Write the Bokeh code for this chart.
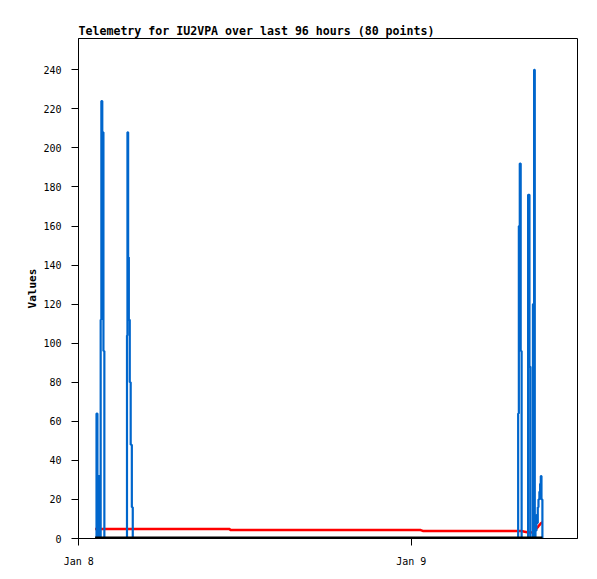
import datetime as dt
from bokeh.plotting import figure
from bokeh.models import ColumnDataSource, FixedTicker, Range1d
from bokeh.embed import file_html
from bokeh.resources import INLINE

BASE = dt.datetime(2025, 1, 8)

# minutes after Jan 8 00:00 for each of the 80 samples
minutes = [71, 77, 81, 85, 90, 95, 98, 102, 107, 111,
           128, 149, 166, 184, 207, 209, 211, 214, 217, 221,
           225, 230, 234, 270, 314, 357, 409, 465, 517, 573,
           616, 651, 659, 724, 789, 854, 919, 984, 1049, 1113,
           1178, 1243, 1308, 1373, 1438, 1481, 1490, 1550, 1611, 1676,
           1741, 1797, 1849, 1870, 1888, 1900, 1903, 1906, 1910, 1914,
           1918, 1931, 1943, 1946, 1952, 1956, 1964, 1967, 1972, 1975,
           1978, 1982, 1985, 1988, 1991, 1995, 1998, 2001, 2004, 2008]

blue = [0, 64, 0, 32, 0, 112, 224, 208, 96, 0,
        0, 0, 0, 0, 0, 104, 208, 144, 112, 80,
        48, 16, 0, 0, 0, 0, 0, 0, 0, 0,
        0, 0, 0, 0, 0, 0, 0, 0, 0, 0,
        0, 0, 0, 0, 0, 0, 0, 0, 0, 0,
        0, 0, 0, 0, 0, 0, 64, 160, 192, 96,
        0, 0, 0, 176, 88, 0, 0, 120, 240, 0,
        4, 12, 8, 16, 20, 24, 28, 32, 20, 0]

red = [4.9, 4.9, 4.9, 4.9, 4.9, 4.9, 4.9, 4.9, 4.9, 4.9,
       4.9, 4.9, 4.9, 4.9, 4.9, 4.9, 4.9, 4.9, 4.9, 4.9,
       4.9, 4.9, 4.9, 4.9, 4.9, 4.9, 4.9, 4.9, 4.9, 4.9,
       4.9, 4.9, 4.3, 4.3, 4.3, 4.3, 4.3, 4.3, 4.3, 4.3,
       4.3, 4.3, 4.3, 4.3, 4.3, 4.3, 3.9, 3.9, 3.9, 3.9,
       3.9, 3.9, 3.9, 3.9, 3.9, 3.9, 3.9, 3.9, 3.9, 3.9,
       3.8, 3.5, 3.2, 3.1, 3.1, 3.1, 3.2, 3.4, 3.8, 4.2,
       4.6, 5.0, 5.4, 5.8, 6.3, 6.8, 7.3, 7.7, 8.0, 8.4]

black = [0] * 80

tick_dates = [dt.datetime(2025, 1, 8), dt.datetime(2025, 1, 9)]
tick_labels = ["Jan 8", "Jan 9"]
y_ticks = [0, 20, 40, 60, 80, 100, 120, 140, 160, 180, 200, 220, 240]

times = [BASE + dt.timedelta(minutes=m) for m in minutes]
src = ColumnDataSource(dict(t=times, blue=blue, red=red, black=black))

EPOCH = dt.datetime(1970, 1, 1)
def ms(d):
    return (d - EPOCH).total_seconds() * 1000.0

p = figure(width=589, height=571, x_axis_type="datetime",
           output_backend="svg", toolbar_location=None,
           x_range=Range1d(BASE - dt.timedelta(minutes=1), BASE + dt.timedelta(minutes=2160)),
           y_range=Range1d(0, 256),
           min_border_left=78, min_border_right=12, min_border_top=38, min_border_bottom=33,
           title="Telemetry for IU2VPA over last 96 hours (80 points)")

p.line("t", "red", source=src, color="#ff0000", line_width=2.5)
p.step("t", "blue", source=src, color="#0066cc", line_width=2.2, mode="after")
p.line("t", "black", source=src, color="#000000", line_width=4)

p.title.text_font = "DejaVu Sans Mono"
p.title.text_font_size = "11.6px"
p.title.text_font_style = "bold"
p.title.text_color = "black"
p.title.align = "left"
p.title.standoff = 2

p.xgrid.visible = False
p.ygrid.visible = False
p.outline_line_color = "#000000"
p.outline_line_width = 1
p.background_fill_color = "white"
p.border_fill_color = "white"

tick_ms = [ms(d) for d in tick_dates]
p.xaxis.ticker = FixedTicker(ticks=tick_ms)
p.xaxis.major_label_overrides = {t: lab for t, lab in zip(tick_ms, tick_labels)}
p.yaxis.ticker = FixedTicker(ticks=y_ticks)
p.yaxis.axis_label = "Values"

for ax in (p.xaxis[0], p.yaxis[0]):
    ax.axis_line_color = "black"
    ax.major_tick_line_color = "black"
    ax.minor_tick_line_color = None
    ax.major_tick_in = 0
    ax.major_tick_out = 7
    ax.major_label_text_font = "DejaVu Sans Mono"
    ax.major_label_text_font_size = "10px"
    ax.major_label_text_color = "black"

p.yaxis.major_label_standoff = 10
p.xaxis.major_label_standoff = 10

p.yaxis.axis_label_text_font = "DejaVu Sans Mono"
p.yaxis.axis_label_text_font_size = "11px"
p.yaxis.axis_label_text_font_style = "bold"
p.yaxis.axis_label_text_color = "black"
p.yaxis.axis_label_standoff = 1

open("out.html", "w").write(file_html(p, INLINE))
